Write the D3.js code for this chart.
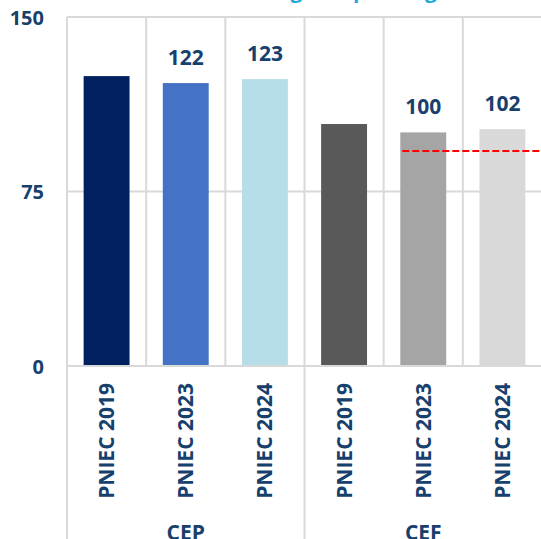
<!DOCTYPE html>
<html>
<head>
<meta charset="utf-8">
<script src="https://cdn.jsdelivr.net/npm/d3@7"></script>
<style>
  body { margin: 0; background: #fff; }
  svg { display: block; }
  text { font-family: "Open Sans", sans-serif; font-weight: bold; }
</style>
</head>
<body>
<div id="chart"></div>
<script>
// chart values
var groups = ["CEP", "CEF"];
var plans = ["PNIEC 2019", "PNIEC 2023", "PNIEC 2024"];
var cepValues = [124.6, 121.6, 123.3];
var cefValues = [104, 100.4, 101.8];
var cepLabels = ["", "122", "123"];
var cefLabels = ["", "100", "102"];
var cefTarget = 92.4;
var yTicks = [0, 75, 150];
var titleText = "Consumi energetici per target";

var cepColors = ["#002060", "#4472c4", "#b7dde8"];
var cefColors = ["#595959", "#a5a5a5", "#d9d9d9"];

var width = 541, height = 539;
var margin = { top: 17, left: 67, right: -1, bottom: 173 };
var textColor = "#17406d";
var gridColor = "#d9d9d9";

// build rows from the arrays
var rows = [];
groups.forEach(function(g, gi) {
  var vals = gi === 0 ? cepValues : cefValues;
  var labs = gi === 0 ? cepLabels : cefLabels;
  var cols = gi === 0 ? cepColors : cefColors;
  plans.forEach(function(p, pi) {
    rows.push({ key: g + "|" + p, group: g, plan: p, value: vals[pi], label: labs[pi], color: cols[pi] });
  });
});

var svg = d3.select("#chart").append("svg")
  .attr("width", width)
  .attr("height", height);

var x = d3.scaleBand()
  .domain(rows.map(function(d) { return d.key; }))
  .range([margin.left, width - margin.right])
  .paddingInner(0)
  .paddingOuter(0);

var y = d3.scaleLinear()
  .domain([0, 150])
  .range([height - margin.bottom, margin.top]);

// title (mostly cut off above the picture)
svg.append("text")
  .attr("x", 302)
  .attr("y", -2)
  .attr("text-anchor", "middle")
  .attr("fill", "#1fa9e1")
  .style("font-size", "21px")
  .text(titleText);

// horizontal gridlines
svg.selectAll(".hgrid")
  .data(yTicks)
  .enter().append("line")
    .attr("class", "hgrid")
    .attr("x1", margin.left)
    .attr("x2", width)
    .attr("y1", function(d) { return y(d); })
    .attr("y2", function(d) { return y(d); })
    .attr("stroke", gridColor)
    .attr("stroke-width", 2);

// vertical separators between categories
var bounds = rows.map(function(d) { return x(d.key); });
bounds.push(x(rows[rows.length - 1].key) + x.bandwidth());
svg.selectAll(".vgrid")
  .data(bounds)
  .enter().append("line")
    .attr("class", "vgrid")
    .attr("x1", function(d) { return d; })
    .attr("x2", function(d) { return d; })
    .attr("y1", y(150))
    .attr("y2", function(d, i) { return (i % plans.length === 0) ? height : y(0); })
    .attr("stroke", gridColor)
    .attr("stroke-width", 2);

// bars
var barW = x.bandwidth() * 0.58;
svg.selectAll(".bar")
  .data(rows)
  .enter().append("rect")
    .attr("class", "bar")
    .attr("x", function(d) { return x(d.key) + (x.bandwidth() - barW) / 2; })
    .attr("width", barW)
    .attr("y", function(d) { return y(d.value); })
    .attr("height", function(d) { return y(0) - y(d.value) - 1; })
    .attr("fill", function(d) { return d.color; });

// value labels
svg.selectAll(".vlabel")
  .data(rows.filter(function(d) { return d.label !== ""; }))
  .enter().append("text")
    .attr("class", "vlabel")
    .attr("x", function(d) { return x(d.key) + x.bandwidth() / 2; })
    .attr("y", function(d) { return y(d.value) - 18; })
    .attr("text-anchor", "middle")
    .attr("fill", textColor)
    .style("font-size", "21px")
    .text(function(d) { return d.label; });

// target dashed line on CEF
var tStart = x("CEF|PNIEC 2023") + (x.bandwidth() - barW) / 2 + 2;
svg.append("line")
  .attr("x1", tStart)
  .attr("x2", width)
  .attr("y1", y(cefTarget))
  .attr("y2", y(cefTarget))
  .attr("stroke", "#ff0000")
  .attr("stroke-width", 2)
  .attr("stroke-dasharray", "7,3");

// y axis
var yAxis = d3.axisLeft(y).tickValues(yTicks).tickSize(0).tickPadding(0);
var yg = svg.append("g")
  .attr("transform", "translate(44,0)")
  .call(yAxis);
yg.select(".domain").remove();
yg.selectAll("text")
  .attr("fill", textColor)
  .attr("dy", "0.36em")
  .style("font-size", "20px")
  .style("font-family", "'Open Sans', sans-serif")
  .style("font-weight", "bold");

// x axis - plan labels, rotated
var xAxis = d3.axisBottom(x).tickSize(0).tickFormat(function(d) { return d.split("|")[1]; });
var xg = svg.append("g")
  .attr("transform", "translate(0," + y(0) + ")")
  .call(xAxis);
xg.select(".domain").remove();
xg.selectAll("text")
  .attr("transform", "rotate(-90)")
  .attr("x", -17)
  .attr("y", 0)
  .attr("dy", "0.36em")
  .attr("text-anchor", "end")
  .attr("fill", textColor)
  .style("font-size", "21px")
  .style("font-family", "'Open Sans', sans-serif")
  .style("font-weight", "bold");

// group labels
svg.selectAll(".glabel")
  .data(groups)
  .enter().append("text")
    .attr("class", "glabel")
    .attr("x", function(g) {
      return x(g + "|" + plans[0]) + x.bandwidth() * plans.length / 2;
    })
    .attr("y", 540)
    .attr("text-anchor", "middle")
    .attr("fill", textColor)
    .style("font-size", "21px")
    .text(function(g) { return g; });
</script>
</body>
</html>
